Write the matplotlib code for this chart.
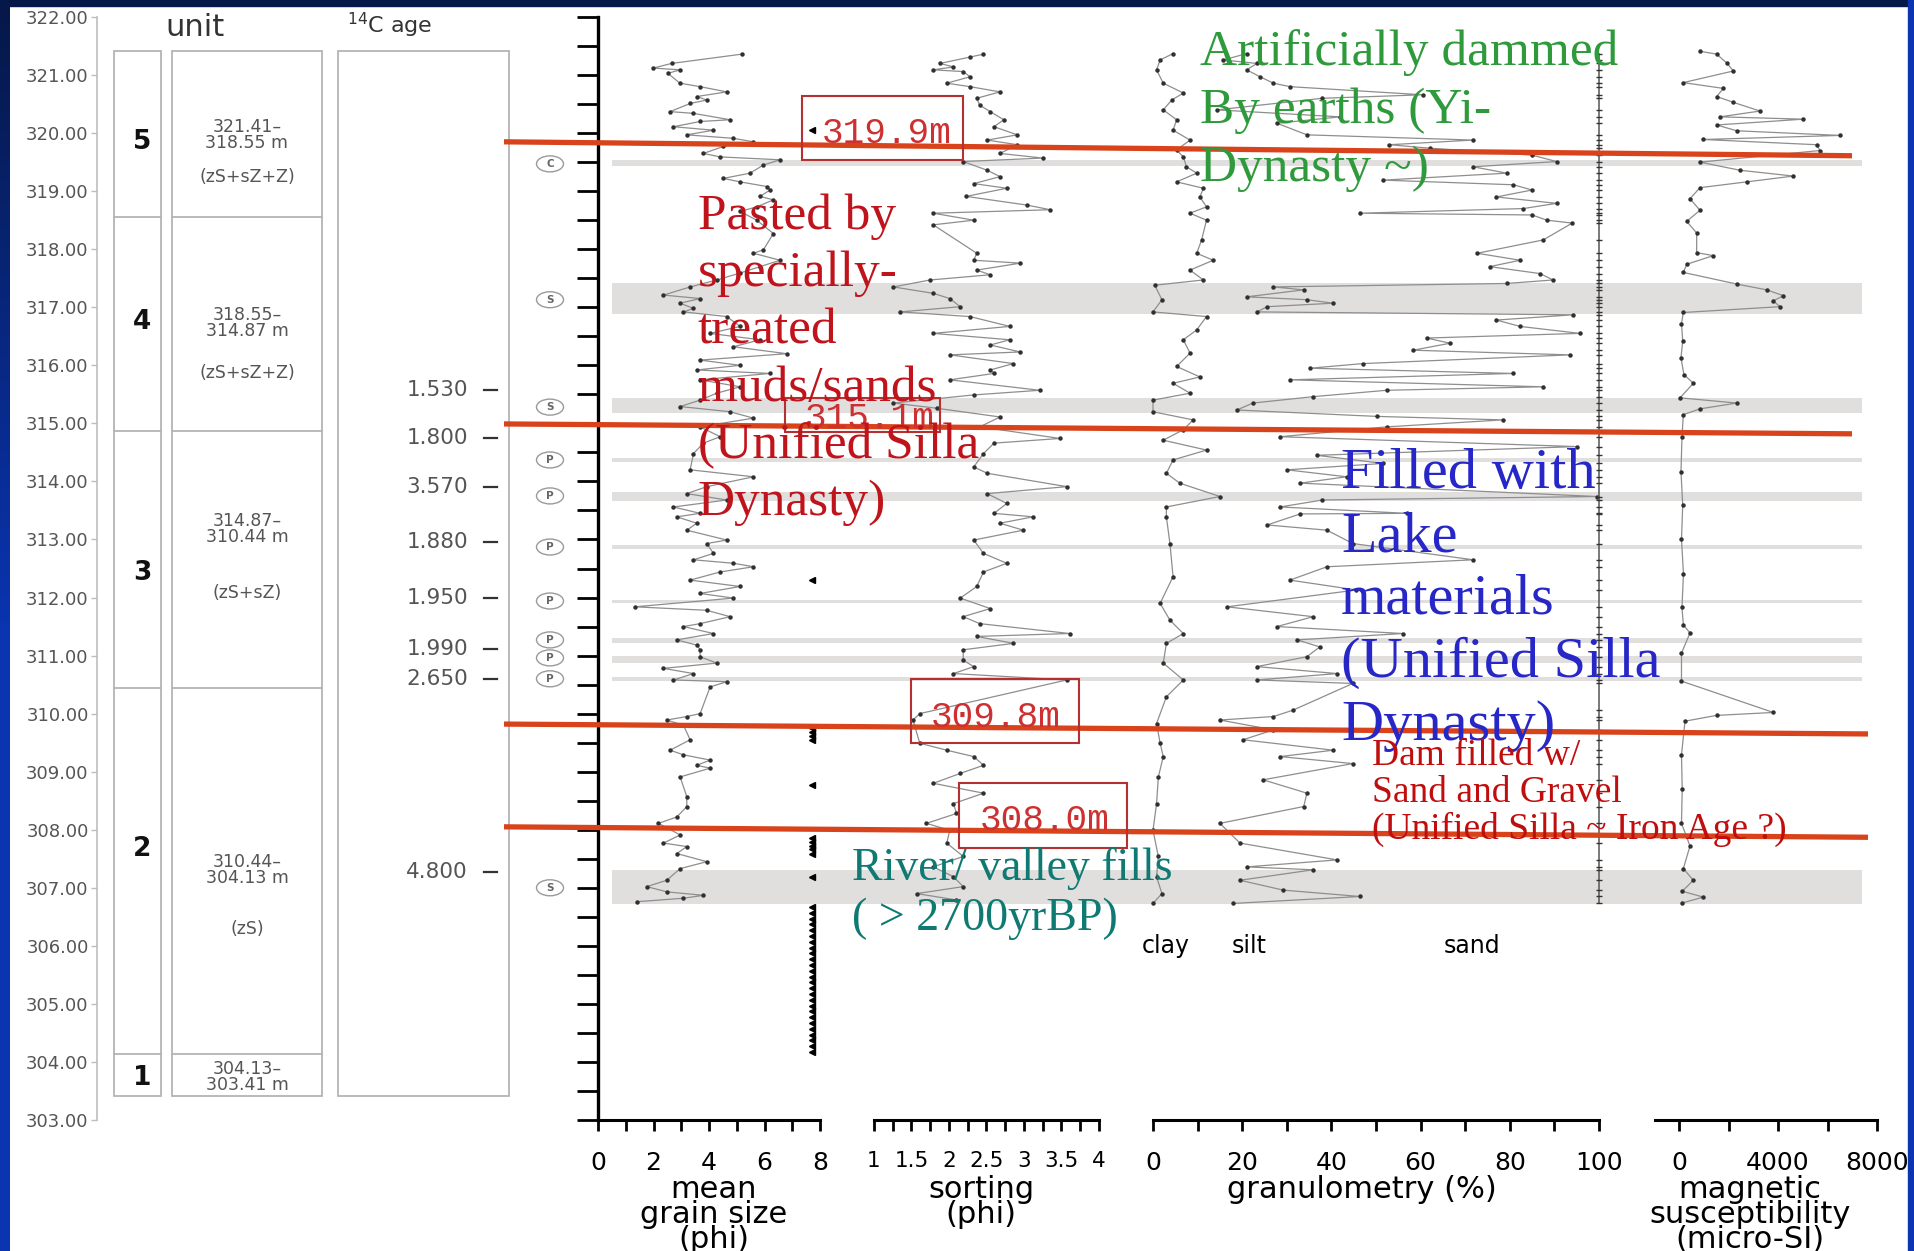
import matplotlib
matplotlib.use("Agg")
import matplotlib.pyplot as plt
from matplotlib.patches import Rectangle, Ellipse
import numpy as np

# ---------------------------------------------------------------- data
depth_tick_values = [322, 321, 320, 319, 318, 317, 316, 315, 314, 313, 312,
                     311, 310, 309, 308, 307, 306, 305, 304, 303]

unit_names = ["5", "4", "3", "2", "1"]
unit_tops = [321.41, 318.55, 314.87, 310.44, 304.13]
unit_bottoms = [318.55, 314.87, 310.44, 304.13, 303.41]
unit_label_depth = [319.85, 316.75, 312.42, 307.67, 303.72]
unit_range_top = ["321.41\u2013", "318.55\u2013", "314.87\u2013", "310.44\u2013", "304.13\u2013"]
unit_range_bot = ["318.55 m", "314.87 m", "310.44 m", "304.13 m", "303.41 m"]
unit_range_depth = [319.97, 316.73, 313.18, 307.31, 303.74]
unit_lith = ["(zS+sZ+Z)", "(zS+sZ+Z)", "(zS+sZ)", "(zS)"]
unit_lith_depth = [319.24, 315.87, 312.08, 306.29]

c14_ages = ["1.530", "1.800", "3.570", "1.880", "1.950", "1.990", "2.650", "4.800"]
c14_depth = [315.57, 314.74, 313.91, 312.95, 312.00, 311.12, 310.60, 307.28]

layer_codes = ["C", "S", "S", "P", "P", "P", "P", "P", "P", "P", "S"]
layer_depth = [319.47, 317.13, 315.28, 314.37, 313.75, 312.87, 311.94, 311.27, 310.96, 310.60, 307.00]
band_top = [319.53, 317.42, 315.44, 314.40, 313.81, 312.90, 311.96, 311.31, 311.00, 310.63, 307.31]
band_bot = [319.43, 316.88, 315.18, 314.34, 313.67, 312.84, 311.90, 311.22, 310.88, 310.57, 306.72]

# mean grain size (phi)
mgs_depth = [321.36, 321.20, 321.12, 321.09, 321.03, 320.86, 320.80, 320.71, 320.63, 320.57,
             320.51, 320.37, 320.34, 320.23, 320.20, 320.11, 320.05, 319.97, 319.91, 319.85,
             319.77, 319.65, 319.59, 319.54, 319.45, 319.31, 319.22, 319.16, 319.08, 319.02,
             318.91, 318.85, 318.73, 318.65, 318.50, 318.27, 317.99, 317.93, 317.81, 317.70,
             317.59, 317.47, 317.35, 317.21, 317.15, 317.07, 316.98, 316.92, 316.84, 316.67,
             316.55, 316.44, 316.32, 316.20, 316.09, 316.00, 315.92, 315.86, 315.75, 315.63,
             315.52, 315.40, 315.29, 315.20, 315.09, 314.94, 314.77, 314.66, 314.48, 314.20,
             314.08, 313.91, 313.79, 313.68, 313.56, 313.45, 313.39, 313.28, 313.16, 312.99,
             312.93, 312.76, 312.65, 312.59, 312.53, 312.44, 312.30, 312.19, 312.07, 311.99,
             311.84, 311.78, 311.67, 311.55, 311.50, 311.38, 311.27, 311.18, 311.10, 310.98,
             310.87, 310.78, 310.69, 310.58, 310.55, 310.46, 310.00, 309.95, 309.89, 309.80,
             309.55, 309.37, 309.29, 309.20, 309.11, 309.06, 308.91, 308.57, 308.40, 308.22,
             308.11, 307.91, 307.77, 307.71, 307.59, 307.45, 307.33, 307.13, 307.02, 306.93,
             306.87, 306.82, 306.76]
mgs_phi = [5.18, 2.65, 1.99, 2.96, 2.52, 2.95, 3.68, 4.64, 3.56, 3.92,
           3.32, 2.60, 3.44, 4.76, 3.68, 2.72, 4.16, 3.20, 4.88, 5.60,
           4.52, 3.80, 4.40, 6.56, 5.96, 5.48, 4.52, 5.12, 6.08, 6.20,
           5.84, 6.32, 5.72, 5.12, 5.72, 6.32, 5.96, 5.60, 6.56, 5.84,
           5.12, 4.28, 3.32, 2.36, 3.68, 2.96, 3.44, 3.08, 4.64, 5.12,
           4.04, 5.84, 4.88, 6.80, 3.68, 5.12, 3.56, 6.20, 3.68, 5.12,
           4.28, 3.68, 2.96, 4.76, 5.60, 3.68, 4.40, 3.80, 3.44, 3.32,
           5.60, 3.92, 3.20, 4.64, 2.72, 3.68, 2.84, 3.56, 3.20, 4.64,
           3.92, 4.16, 3.44, 4.88, 5.60, 4.40, 3.32, 5.12, 3.68, 4.88,
           1.33, 3.92, 4.76, 3.68, 3.08, 4.16, 2.84, 3.56, 3.68, 3.68,
           4.28, 2.36, 3.44, 2.72, 4.64, 4.04, 3.68, 3.20, 2.48, 3.08,
           3.32, 2.60, 3.08, 4.04, 3.56, 4.04, 2.96, 3.20, 3.20, 2.84,
           2.18, 2.96, 2.36, 3.20, 2.84, 3.92, 2.96, 2.48, 1.76, 2.48,
           3.80, 3.08, 1.40]

sample_marks = [320.05, 312.30, 309.75, 309.68, 309.62, 309.55, 308.77, 307.85, 307.79,
                307.72, 307.66, 307.59, 307.19, 306.67, 306.57, 306.47, 306.37, 306.27,
                306.17, 306.07, 305.97, 305.87, 305.77, 305.67, 305.57, 305.47, 305.37,
                305.27, 305.17, 305.07, 304.97, 304.87, 304.77, 304.67, 304.57, 304.47,
                304.37, 304.27, 304.17]

# sorting (phi)
sort_depth = [321.36, 321.31, 321.20, 321.14, 321.09, 321.06, 320.97, 320.86, 320.80, 320.71,
              320.60, 320.48, 320.37, 320.23, 320.11, 319.97, 319.88, 319.80, 319.65, 319.57,
              319.51, 319.36, 319.25, 319.13, 319.05, 318.91, 318.76, 318.68, 318.62, 318.50,
              318.42, 317.93, 317.81, 317.76, 317.64, 317.56, 317.47, 317.35, 317.24, 317.15,
              317.01, 316.92, 316.84, 316.67, 316.55, 316.44, 316.35, 316.23, 316.18, 316.03,
              315.92, 315.86, 315.75, 315.57, 315.49, 315.35, 315.26, 315.11, 314.94, 314.74,
              314.66, 314.48, 314.25, 314.14, 313.91, 313.79, 313.62, 313.45, 313.39, 313.28,
              313.16, 312.99, 312.76, 312.59, 312.44, 312.19, 311.99, 311.81, 311.67, 311.55,
              311.38, 311.33, 311.21, 311.10, 310.92, 310.81, 310.69, 310.58, 310.00, 309.89,
              309.49, 309.37, 309.26, 309.11, 308.97, 308.80, 308.63, 308.45, 308.28, 308.11,
              307.99, 307.77, 307.54, 307.36, 307.19, 307.02, 306.90, 306.79]
sort_phi = [2.46, 2.28, 1.88, 2.06, 1.79, 2.19, 2.28, 1.97, 2.28, 2.68,
            2.37, 2.41, 2.55, 2.73, 2.60, 2.91, 2.51, 2.91, 2.68, 3.25,
            2.19, 2.51, 2.68, 2.33, 2.77, 2.23, 3.04, 3.35, 1.79, 2.33,
            1.79, 2.37, 2.33, 2.95, 2.37, 2.55, 1.75, 1.26, 1.79, 2.01,
            2.15, 1.35, 2.28, 2.81, 1.79, 2.81, 2.55, 2.95, 2.01, 2.86,
            2.55, 2.60, 2.01, 3.21, 2.33, 1.26, 1.84, 2.68, 2.41, 3.48,
            2.60, 2.46, 2.33, 2.51, 3.57, 2.51, 2.77, 2.60, 3.12, 2.68,
            2.99, 2.33, 2.46, 2.77, 2.46, 2.37, 2.15, 2.55, 2.19, 2.41,
            3.61, 2.37, 2.86, 2.19, 2.19, 2.33, 2.06, 3.57, 1.61, 1.52,
            1.61, 1.97, 2.33, 2.46, 2.15, 1.79, 2.46, 2.06, 2.10, 1.70,
            2.01, 1.97, 2.19, 1.79, 2.06, 2.19, 1.57, 2.10]

# granulometry, cumulative (%)
clay_depth = [321.37, 321.26, 321.09, 320.86, 320.69, 320.57, 320.40, 320.23, 320.05, 319.88,
              319.71, 319.59, 319.42, 319.31, 319.16, 319.05, 318.90, 318.73, 318.62, 318.50,
              318.16, 317.93, 317.81, 317.64, 317.47, 317.38, 317.13, 316.92, 316.84, 316.61,
              316.44, 316.21, 315.98, 315.80, 315.69, 315.52, 315.40, 315.20, 315.06, 314.89,
              314.71, 314.54, 314.37, 314.14, 313.97, 313.74, 313.56, 313.39, 312.93, 312.36,
              311.90, 311.61, 311.38, 311.21, 310.87, 310.58, 310.29, 309.83, 309.49, 309.26,
              308.91, 308.45, 307.99, 307.54, 307.19, 306.90, 306.73]
clay_pct = [4.5, 1.6, 0.8, 2.3, 6.8, 4.2, 2.3, 5.3, 4.5, 8.3,
            5.3, 6.8, 7.5, 9.8, 5.3, 11.3, 10.5, 12.0, 8.3, 12.0,
            10.9, 9.8, 13.5, 8.3, 11.3, 0.4, 2.0, 0.0, 12.0, 9.8,
            6.8, 8.3, 5.3, 10.5, 4.5, 8.3, 0.0, 0.0, 9.0, 6.8,
            2.3, 12.0, 4.5, 3.0, 6.0, 15.0, 3.0, 3.0, 3.8, 4.5,
            1.6, 3.8, 6.8, 3.0, 2.3, 6.8, 3.0, 0.8, 1.6, 2.3,
            1.2, 0.8, 0.0, 1.2, 0.8, 2.0, 0.0]

silt_depth = [321.37, 321.26, 321.20, 321.09, 320.97, 320.86, 320.80, 320.66, 320.60, 320.40,
              320.28, 320.17, 319.97, 319.88, 319.80, 319.74, 319.62, 319.51, 319.42, 319.31,
              319.19, 319.11, 319.02, 318.90, 318.79, 318.70, 318.62, 318.59, 318.50, 318.45,
              318.16, 317.93, 317.81, 317.70, 317.58, 317.47, 317.41, 317.35, 317.30, 317.18,
              317.13, 317.07, 317.01, 316.92, 316.87, 316.78, 316.67, 316.55, 316.47, 316.38,
              316.26, 316.18, 316.03, 315.95, 315.86, 315.75, 315.63, 315.57, 315.46, 315.35,
              315.23, 315.12, 315.06, 314.94, 314.77, 314.60, 314.45, 314.31, 314.20, 314.08,
              313.97, 313.74, 313.68, 313.56, 313.45, 313.44, 313.25, 313.16, 312.93, 312.65,
              312.53, 312.30, 312.13, 311.84, 311.67, 311.50, 311.38, 311.27, 311.15, 310.98,
              310.81, 310.69, 310.58, 310.52, 310.06, 309.95, 309.89, 309.72, 309.55, 309.37,
              309.26, 309.14, 308.86, 308.63, 308.40, 308.11, 307.77, 307.48, 307.36, 307.31,
              307.13, 306.96, 306.85, 306.73]
silt_pct = [21.0, 15.8, 23.3, 21.0, 24.0, 27.0, 30.7, 60.5, 38.0, 14.3,
            42.0, 27.8, 34.5, 71.8, 53.0, 62.0, 85.0, 90.5, 71.8, 79.3,
            51.6, 80.8, 85.0, 77.0, 90.5, 83.0, 46.4, 85.0, 88.3, 94.0,
            87.5, 72.7, 82.3, 75.5, 86.8, 89.7, 79.3, 27.0, 33.8, 21.0,
            34.5, 40.4, 25.6, 23.3, 94.2, 77.0, 82.3, 95.7, 61.4, 66.6,
            58.3, 93.5, 47.1, 35.2, 80.8, 30.7, 87.5, 52.4, 35.9, 22.4,
            18.8, 50.2, 78.5, 52.4, 28.5, 95.0, 36.7, 51.6, 30.0, 43.4,
            33.0, 99.5, 38.0, 28.5, 57.0, 33.0, 25.6, 39.0, 44.8, 71.8,
            39.0, 30.7, 45.6, 16.6, 35.9, 27.8, 56.0, 32.3, 37.4, 34.5,
            23.3, 41.3, 23.3, 44.8, 31.4, 27.0, 15.0, 27.0, 20.2, 40.4,
            28.5, 44.8, 24.7, 34.5, 33.8, 15.0, 19.5, 41.3, 21.0, 35.9,
            19.5, 29.2, 46.4, 17.9]

# magnetic susceptibility (micro-SI)
ms_depth = [321.41, 321.36, 321.21, 321.07, 320.87, 320.77, 320.63, 320.53, 320.38, 320.28,
            320.24, 320.14, 320.04, 319.96, 319.89, 319.80, 319.70, 319.50, 319.36, 319.26,
            319.16, 319.06, 318.87, 318.67, 318.48, 318.28, 317.94, 317.89, 317.74, 317.60,
            317.40, 317.30, 317.20, 317.11, 317.01, 316.91, 316.72, 316.42, 316.13, 315.84,
            315.69, 315.44, 315.35, 315.25, 315.15, 314.76, 314.17, 313.59, 313.00, 312.41,
            311.83, 311.53, 311.39, 311.04, 310.56, 310.02, 309.97, 309.87, 309.29, 308.70,
            308.11, 307.72, 307.33, 307.13, 306.94, 306.84, 306.74]
ms_val = [848, 1522, 1925, 2195, 175, 1791, 1522, 2195, 3272, 1657,
          5023, 1522, 2330, 6504, 983, 5562, 5697, 848, 2465, 4619,
          2734, 848, 444, 848, 310, 714, 714, 1387, 310, 175,
          2330, 3542, 4215, 3811, 4080, 175, 100, 150, 80, 200,
          580, 40, 2330, 848, 175, 120, 80, 150, 100, 180,
          120, 175, 444, 100, 100, 3811, 1522, 242, 100, 130,
          100, 444, 175, 580, 130, 983, 140]

# interpreted boundaries (annotation)
boundary_labels = ["319.9m", "315.1m", "309.8m", "308.0m"]
boundary_left = [319.85, 314.99, 309.82, 308.05]
boundary_right = [319.61, 314.82, 309.65, 307.87]

# ---------------------------------------------------------------- figure
W, H = 1915, 1251
Y_TOP, Y_BOT = 17, 1120
D_TOP, D_BOT = 322.0, 303.0
SANS = "DejaVu Sans"
SERIF = "Liberation Serif"
MONO = "Liberation Mono"

fig = plt.figure(figsize=(W / 100, H / 100), dpi=100)
fig.patch.set_facecolor("white")


def px_axes(x0, x1, y0=Y_TOP, y1=Y_BOT, z=1):
    ax = fig.add_axes([x0 / W, 1 - y1 / H, (x1 - x0) / W, (y1 - y0) / H], zorder=z)
    ax.patch.set_alpha(0)
    return ax


# background depth axes: x in pixels, y in metres
bg = px_axes(0, W, z=0)
bg.set_xlim(0, W)
bg.set_ylim(D_BOT, D_TOP)
bg.axis("off")

for t, b in zip(band_top, band_bot):
    bg.axhspan(b, t, xmin=612 / W, xmax=1862 / W, color="#e1dede", lw=0, zorder=0)

box_col = "#b4b4b4"
for x0, x1 in [(114, 161), (172, 322)]:
    bg.add_patch(Rectangle((x0, unit_bottoms[-1]), x1 - x0, unit_tops[0] - unit_bottoms[-1],
                           fill=False, ec=box_col, lw=1.3))
    for b in unit_bottoms[:-1]:
        bg.plot([x0, x1], [b, b], color=box_col, lw=1.3)
bg.add_patch(Rectangle((338, unit_bottoms[-1]), 171, unit_tops[0] - unit_bottoms[-1],
                       fill=False, ec=box_col, lw=1.3))

for name, d in zip(unit_names, unit_label_depth):
    bg.text(142, d, name, ha="center", va="center", fontsize=19, fontweight="bold",
            family=SANS, color="#111111")
for a, b, d in zip(unit_range_top, unit_range_bot, unit_range_depth):
    bg.text(247, d + 0.135, a, ha="center", va="center", fontsize=12.5, family=SANS,
            color="#555555")
    bg.text(247, d - 0.135, b, ha="center", va="center", fontsize=12.5, family=SANS,
            color="#555555")
for s, d in zip(unit_lith, unit_lith_depth):
    bg.text(247, d, s, ha="center", va="center", fontsize=12.5, family=SANS, color="#555555")

for a, d in zip(c14_ages, c14_depth):
    bg.text(468, d, a, ha="right", va="center", fontsize=15.5, family=SANS, color="#555555")
    bg.plot([484, 497], [d, d], color="#333333", lw=1.6)

for c, d in zip(layer_codes, layer_depth):
    bg.add_patch(Ellipse((550, d), 27, 16 / 58.05, fill=False, ec="#9a9a9a", lw=1.0))
    bg.text(550, d, c, ha="center", va="center", fontsize=7.5, family=SANS, color="#666666",
            fontweight="bold")

# left depth scale
axd = px_axes(97, 98)
axd.set_ylim(D_BOT, D_TOP)
for s in ["top", "right", "bottom"]:
    axd.spines[s].set_visible(False)
axd.spines["left"].set_color("#bdbdbd")
axd.spines["left"].set_linewidth(1.2)
axd.set_xticks([])
axd.set_yticks(depth_tick_values)
axd.set_yticklabels(["%.2f" % v for v in depth_tick_values])
axd.tick_params(axis="y", length=4, width=1, color="#bdbdbd", labelsize=13,
                labelcolor="#555555", pad=2)
for lab in axd.get_yticklabels():
    lab.set_family(SANS)


def bottom_axis(x0, x1, xlim, ticks, labels, lsize=18):
    ax = px_axes(x0, x1, z=2)
    ax.set_xlim(*xlim)
    ax.set_ylim(D_BOT, D_TOP)
    for s in ["top", "right", "left"]:
        ax.spines[s].set_visible(False)
    ax.spines["bottom"].set_linewidth(2.2)
    ax.set_xticks(ticks)
    ax.set_xticklabels(labels)
    ax.set_yticks([])
    ax.tick_params(axis="x", direction="out", length=8, width=2, pad=14, labelsize=lsize)
    for lab in ax.get_xticklabels():
        lab.set_family(SANS)
    return ax


line_kw = dict(color="#8e8e8e", lw=0.9, marker="o", ms=2.2, mfc="#303030", mec="#303030",
               clip_on=False)

# mean grain size
ax1 = bottom_axis(598, 820, (0, 8), [0, 1, 2, 3, 4, 5, 6, 7, 8],
                  ["0", "", "2", "", "4", "", "6", "", "8"])
ax1.spines["left"].set_visible(True)
ax1.spines["left"].set_linewidth(2.4)
ax1.set_yticks([322 - 0.5 * i for i in range(39)])
ax1.set_yticklabels([])
ax1.tick_params(axis="y", direction="out", length=15, width=2)
ax1.plot(mgs_phi, mgs_depth, **line_kw)
ax1.plot([7.72] * len(sample_marks), sample_marks, ls="none", marker="<", ms=4.5,
         color="black", clip_on=False)

# sorting
ax2 = bottom_axis(874, 1099, (1, 4), [1 + 0.25 * i for i in range(13)],
                  ["1", "", "1.5", "", "2", "", "2.5", "", "3", "", "3.5", "", "4"], lsize=15.5)
ax2.plot(sort_phi, sort_depth, **line_kw)

# granulometry
ax3 = bottom_axis(1153, 1599, (0, 100), list(range(0, 101, 10)),
                  ["0", "", "20", "", "40", "", "60", "", "80", "", "100"])
ax3.plot(clay_pct, clay_depth, **line_kw)
ax3.plot(silt_pct, silt_depth, **line_kw)
ax3.plot([100] * len(silt_depth), silt_depth, color="#555555", lw=1.1, marker="_", ms=4,
         mec="#333333", clip_on=False)
ax3.text(2.9, 306.0, "clay", ha="center", va="center", fontsize=17, family=SANS)
ax3.text(21.5, 306.0, "silt", ha="center", va="center", fontsize=17, family=SANS)
ax3.text(71.5, 306.0, "sand", ha="center", va="center", fontsize=17, family=SANS)

# magnetic susceptibility
ax4 = bottom_axis(1655, 1877, (-970, 8000), [0, 2000, 4000, 6000, 8000],
                  ["0", "", "4000", "", "8000"])
ax4.plot(ms_val, ms_depth, **line_kw)

# boundary lines (on top of data)
top = px_axes(0, W, z=3)
top.set_xlim(0, W)
top.set_ylim(D_BOT, D_TOP)
top.axis("off")
x_ends = [1852, 1852, 1868, 1868]
for dl, dr, xe in zip(boundary_left, boundary_right, x_ends):
    top.plot([504, xe], [dl, dr], color="#d8431b", lw=3.8, solid_capstyle="butt")

# ---------------------------------------------------------------- overlay (pixels)
ov = fig.add_axes([0, 0, 1, 1], zorder=4)
ov.set_xlim(0, W)
ov.set_ylim(H, 0)
ov.axis("off")

# frame
grad = np.linspace(0, 1, 256).reshape(-1, 1)
ov.imshow(grad, extent=[0, 10, H, 0], cmap=matplotlib.colors.LinearSegmentedColormap.from_list(
    "b", ["#061848", "#0a34b0", "#0a34b0"]), aspect="auto", zorder=10)
ov.add_patch(Rectangle((0, 0), W, 6, color="#061848", zorder=10))
ov.add_patch(Rectangle((W - 7, 0), 7, H, color="#0a34b0", zorder=10))
ov.set_xlim(0, W)
ov.set_ylim(H, 0)

ov.text(195, 27, "unit", ha="center", va="center", fontsize=22, family=SANS, color="#333333")
ov.text(390, 25, r"$^{14}$C age", ha="center", va="center", fontsize=16, family=SANS,
        color="#333333")

# boxes with depth labels
box_ec = "#b53030"
txt_red = "#cc3030"
boxes = [(802, 96, 963, 160), (785, 398, 940, 432), (911, 679, 1079, 743), (959, 783, 1127, 848)]
box_text_xy = [(822, 143), (805, 428), (931, 727), (980, 830)]
for (x0, y0, x1, y1), (tx, ty), lab in zip(boxes, box_text_xy, boundary_labels):
    ov.add_patch(Rectangle((x0, y0), x1 - x0, y1 - y0, fill=False, ec=box_ec, lw=1.5))
    ov.text(tx, ty, lab, ha="left", va="baseline", fontsize=26, family=MONO, color=txt_red)


def block(lines, x, y0, pitch, size, color):
    for i, s in enumerate(lines):
        ov.text(x, y0 + i * pitch, s, ha="left", va="baseline", fontsize=size,
                family=SERIF, color=color)


block(["Artificially dammed", "By earths (Yi-", "Dynasty ~)"], 1200, 65, 58, 37, "#2f9a3c")
block(["Pasted by", "specially-", "treated", "muds/sands", "(Unified Silla", "Dynasty)"],
      698, 229, 57.2, 37, "#c0141c")
block(["Filled with", "Lake", "materials", "(Unified Silla", "Dynasty)"], 1341, 488, 63, 42,
      "#2727c8")
block(["Dam filled w/", "Sand and Gravel", "(Unified Silla ~ Iron Age ?)"], 1372, 765, 37, 27,
      "#c00d0d")
block(["River/ valley fills", "( > 2700yrBP)"], 852, 880, 50, 33, "#0e7a72")


# axis titles
def title(lines, x, y0, pitch=25, size=22):
    for i, s in enumerate(lines):
        ov.text(x, y0 + i * pitch, s, ha="center", va="baseline", fontsize=size, family=SANS)


title(["mean", "grain size", "(phi)"], 714, 1198)
title(["sorting", "(phi)"], 981, 1198)
title(["granulometry (%)"], 1362, 1198)
title(["magnetic", "susceptibility", "(micro-SI)"], 1750, 1198)

fig.savefig("out.png", dpi=100, facecolor="white")
